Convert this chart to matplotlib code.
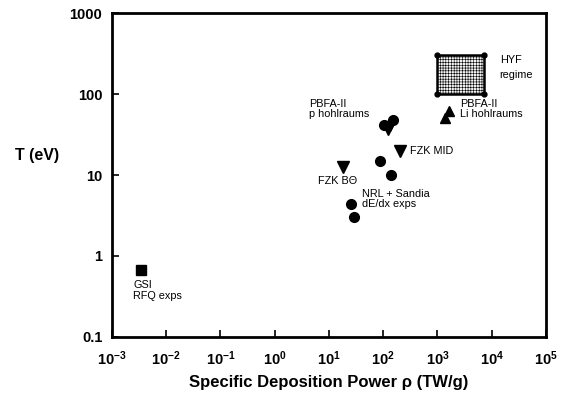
import numpy as np
import matplotlib
matplotlib.use('Agg')
import matplotlib.pyplot as plt
from matplotlib.patches import Rectangle
from matplotlib.ticker import FixedLocator, FixedFormatter

plt.rcParams['font.family'] = ['Liberation Sans', 'DejaVu Sans']
plt.rcParams['mathtext.fontset'] = 'custom'
plt.rcParams['mathtext.rm'] = 'Liberation Sans:bold'
plt.rcParams['mathtext.it'] = 'Liberation Sans:bold'
plt.rcParams['mathtext.bf'] = 'Liberation Sans:bold'
plt.rcParams['hatch.linewidth'] = 0.4
plt.rcParams['hatch.color'] = '#bdbdbd'

# data
gsi_p, gsi_T = [0.0034], [0.67]
nrl_p = [87, 138, 26, 29]
nrl_T = [15, 10, 4.4, 3.0]
pbfa_p_circ = [105, 150]
pbfa_T_circ = [42, 48]
pbfa_p_tri = [120, 132]
pbfa_T_tri = [36, 40]
fzk_p = [205, 18]
fzk_T = [20, 12.4]
li_p = [1400, 1600]
li_T = [50, 62]
hyf_p = [1000, 7200]
hyf_T = [100, 300]

xticks = [1e-3, 1e-2, 1e-1, 1e0, 1e1, 1e2, 1e3, 1e4, 1e5]
xlabels = [r'$10^{-3}$', r'$10^{-2}$', r'$10^{-1}$', r'$10^{0}$', r'$10^{1}$',
           r'$10^{2}$', r'$10^{3}$', r'$10^{4}$', r'$10^{5}$']
yticks = [0.1, 1, 10, 100, 1000]
ylabels = ['0.1', '1', '10', '100', '1000']

fig = plt.figure(figsize=(5.72, 3.98), dpi=100)
ax = fig.add_axes([0.1958, 0.1533, 0.7587, 0.814])
ax.set_xscale('log')
ax.set_yscale('log')
ax.set_xlim(1e-3, 1e5)
ax.set_ylim(0.1, 1000)

# HYF regime box
box = Rectangle((hyf_p[0], hyf_T[0]), hyf_p[1] - hyf_p[0], hyf_T[1] - hyf_T[0],
                facecolor='#f2f2f2', edgecolor='black', lw=1.8, hatch='++++++')
ax.add_patch(box)
ax.plot([hyf_p[0], hyf_p[1], hyf_p[0], hyf_p[1]],
        [hyf_T[0], hyf_T[0], hyf_T[1], hyf_T[1]], 'o', color='black', ms=3.5)

ax.plot(gsi_p, gsi_T, 's', color='black', ms=7)
ax.plot(nrl_p, nrl_T, 'o', color='black', ms=7)
ax.plot(pbfa_p_circ, pbfa_T_circ, 'o', color='black', ms=7)
ax.plot(pbfa_p_tri, pbfa_T_tri, 'v', color='black', ms=7)
ax.plot(fzk_p, fzk_T, 'v', color='black', ms=8)
ax.plot(li_p, li_T, '^', color='black', ms=7)

fs = 7.8
ax.text(14000, 300, 'HYF\nregime', fontsize=fs, va='top', linespacing=1.6)
ax.text(2600, 88, 'PBFA-II\nLi hohlraums', fontsize=fs, va='top', linespacing=1.1)
ax.text(4.3, 88, 'PBFA-II\np hohlraums', fontsize=fs, va='top', linespacing=1.1)
ax.text(310, 20, 'FZK MID', fontsize=fs, va='center')
ax.text(6.3, 8.5, 'FZK B\u0398', fontsize=fs, va='center')
ax.text(41, 6.8, 'NRL + Sandia\ndE/dx exps', fontsize=fs, va='top', linespacing=1.1)
ax.text(0.00245, 0.5, 'GSI\nRFQ exps', fontsize=fs, va='top', linespacing=1.1)

ax.xaxis.set_major_locator(FixedLocator(xticks))
ax.xaxis.set_major_formatter(FixedFormatter(xlabels))
ax.yaxis.set_major_locator(FixedLocator(yticks))
ax.yaxis.set_major_formatter(FixedFormatter(ylabels))
ax.minorticks_off()
ax.tick_params(direction='in', length=5, width=1.2, labelsize=10.5, pad=7)
ax.tick_params(axis='x', pad=9)
for lab in ax.get_yticklabels():
    lab.set_fontweight('bold')
for s in ax.spines.values():
    s.set_linewidth(2)

ax.set_xlabel('Specific Deposition Power \u03c1 (TW/g)', fontsize=12,
              fontweight='bold', labelpad=5)
fig.text(0.027, 0.61, 'T (eV)', fontsize=11.5, fontweight='bold', va='center')

fig.savefig('out.png', dpi=100)
